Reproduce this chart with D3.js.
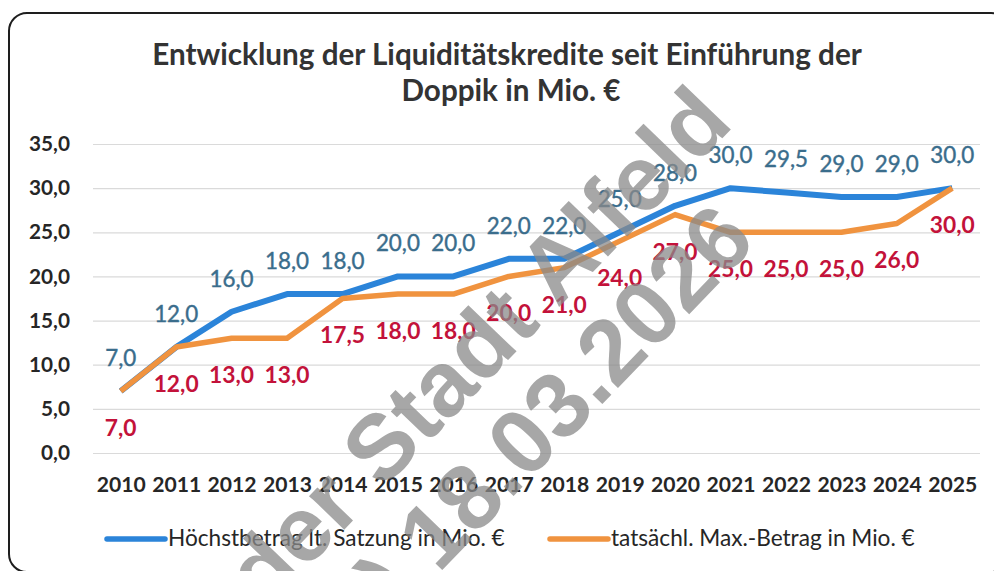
<!DOCTYPE html>
<html>
<head>
<meta charset="utf-8">
<script src="https://cdn.jsdelivr.net/npm/d3@7/dist/d3.min.js"></script>
<style>
  html, body { margin: 0; padding: 0; background: #fff; }
  #chart { width: 994px; height: 571px; }
  text { font-family: Lato, "Open Sans", sans-serif; }
</style>
</head>
<body>
<div id="chart"></div>
<script>
const years = ['2010','2011','2012','2013','2014','2015','2016','2017','2018','2019','2020','2021','2022','2023','2024','2025'];
const limitVals = [7, 12, 16, 18, 18, 20, 20, 22, 22, 25, 28, 30, 29.5, 29, 29, 30];
const actualVals = [7, 12, 13, 13, 17.5, 18, 18, 20, 21, 24, 27, 25, 25, 25, 26, 30];
const yTicks = [0, 5, 10, 15, 20, 25, 30, 35];
const titleLines = ['Entwicklung der Liquiditätskredite seit Einführung der', 'Doppik in Mio. €'];
const seriesNames = ['Höchstbetrag lt. Satzung in Mio. €', 'tatsächl. Max.-Betrag in Mio. €'];
const stampLines = ['Eigentum der Stadt Alfeld', '(Leine) 18.03.2026'];

const C = {
  blue: '#2b84d9',
  orange: '#f0933f',
  blueLbl: '#3a6d8c',
  redLbl: '#c3123a',
  text: '#262626',
  grid: '#dadada'
};

// scale font-size so that the text gets the wanted width
function fitWidth(sel, target) {
  const w = sel.node().getComputedTextLength();
  const fs = parseFloat(sel.style('font-size'));
  const nfs = fs * target / w;
  sel.style('font-size', nfs + 'px');
  return nfs;
}
function sizeFor(str, weight, target) {
  const t = svg.append('text').style('font-size', '20px').style('font-weight', weight).text(str);
  const fs = fitWidth(t, target);
  t.remove();
  return fs;
}

const W = 994, H = 571;
const M = { t: 144, r: 14, b: 118, l: 93 };
const svg = d3.select('#chart').append('svg')
  .attr('width', W).attr('height', H)
  .attr('viewBox', `0 0 ${W} ${H}`)
  .style('display', 'block');

// frame
svg.append('rect')
  .attr('x', 9).attr('y', 13)
  .attr('width', 1000).attr('height', 559)
  .attr('rx', 18)
  .attr('fill', '#fff')
  .attr('stroke', '#1e1e1e')
  .attr('stroke-width', 2);

// title
const t1 = svg.append('text')
  .attr('x', 507).attr('y', 65)
  .attr('text-anchor', 'middle')
  .style('font-weight', 700).style('font-size', '28px')
  .style('fill', '#333')
  .text(titleLines[0]);
const titleFs = fitWidth(t1, 710);
svg.append('text')
  .attr('x', 511).attr('y', 101)
  .attr('text-anchor', 'middle')
  .style('font-weight', 700).style('font-size', titleFs + 'px')
  .style('fill', '#333')
  .text(titleLines[1]);

const x = d3.scalePoint()
  .domain(years)
  .range([M.l, W - M.r])
  .padding(0.5);

const y = d3.scaleLinear()
  .domain([0, 35])
  .range([H - M.b, M.t]);

// grid
svg.append('g').attr('class', 'gridline')
  .attr('transform', `translate(${M.l},0)`)
  .call(d3.axisLeft(y).tickValues(yTicks).tickSize(-(W - M.r - M.l)).tickFormat(''))
  .call(g => g.select('.domain').remove())
  .call(g => g.selectAll('line').attr('stroke', C.grid).attr('stroke-width', 1.2));

const fmt = v => d3.format('.1f')(v).replace('.', ',');

// y axis labels
const yFs = sizeFor('35,0', 700, 41);
svg.append('g')
  .attr('transform', `translate(70,0)`)
  .call(d3.axisLeft(y).tickValues(yTicks).tickSize(0).tickPadding(0).tickFormat(fmt))
  .call(g => g.select('.domain').remove())
  .call(g => g.selectAll('text')
    .style('font-family', 'Lato, sans-serif')
    .style('font-size', yFs + 'px').style('font-weight', 700)
    .attr('fill', C.text));

// x axis labels
const xFs = sizeFor('2010', 700, 49);
svg.append('g')
  .attr('transform', `translate(0,${H - M.b})`)
  .call(d3.axisBottom(x).tickSize(0).tickPadding(0))
  .call(g => g.select('.domain').remove())
  .call(g => g.selectAll('text')
    .attr('dy', null).attr('y', 39)
    .style('font-family', 'Lato, sans-serif')
    .style('font-size', xFs + 'px').style('font-weight', 700)
    .attr('fill', C.text));

const line = d3.line()
  .x((d, i) => x(years[i]))
  .y(d => y(d));

svg.append('path')
  .datum(limitVals)
  .attr('fill', 'none')
  .attr('stroke', C.blue)
  .attr('stroke-width', 6)
  .attr('stroke-linejoin', 'round')
  .attr('d', line);

svg.append('path')
  .datum(actualVals)
  .attr('fill', 'none')
  .attr('stroke', C.orange)
  .attr('stroke-width', 5.5)
  .attr('stroke-linejoin', 'round')
  .attr('d', line);

// data labels
const blueFs = sizeFor('12,0', 400, 44);
const redFs = sizeFor('12,0', 700, 45);

svg.selectAll('text.lblLimit')
  .data(limitVals)
  .enter().append('text')
  .attr('class', 'lblLimit')
  .attr('x', (d, i) => x(years[i]))
  .attr('y', d => y(d) - 33)
  .attr('dy', '0.35em')
  .attr('text-anchor', 'middle')
  .style('font-size', blueFs + 'px')
  .style('font-weight', 400)
  .style('fill', C.blueLbl)
  .style('stroke', C.blueLbl)
  .style('stroke-width', 0.4)
  .text(fmt);

svg.selectAll('text.lblActual')
  .data(actualVals)
  .enter().append('text')
  .attr('class', 'lblActual')
  .attr('x', (d, i) => x(years[i]))
  .attr('y', d => y(d) + 37)
  .attr('dy', '0.35em')
  .attr('text-anchor', 'middle')
  .style('font-size', redFs + 'px')
  .style('font-weight', 700)
  .style('fill', C.redLbl)
  .text(fmt);

// legend
const legend = svg.append('g');
const legFs = sizeFor(seriesNames[0], 400, 337);
[[C.blue, 107, seriesNames[0]], [C.orange, 550, seriesNames[1]]].forEach(([col, lx, name]) => {
  legend.append('line')
    .attr('x1', lx).attr('x2', lx + 58)
    .attr('y1', 539).attr('y2', 539)
    .attr('stroke', col).attr('stroke-width', 5.5)
    .attr('stroke-linecap', 'round');
  legend.append('text')
    .attr('x', lx + 61).attr('y', 546)
    .style('font-size', legFs + 'px')
    .style('fill', C.text)
    .text(name);
});

// stamp across the picture (cut by the picture edge like in the scan)
const stamp = svg.append('g')
  .style('pointer-events', 'none');
[[735, 125, stampLines[0]], [758, 243, stampLines[1]]].forEach(([sx, sy, s]) => {
  stamp.append('text')
    .attr('transform', `translate(${sx},${sy}) rotate(-46)`)
    .attr('text-anchor', 'end')
    .style('font-family', '"Liberation Sans", Arial, sans-serif')
    .style('font-weight', 700)
    .style('font-size', '92px')
    .style('fill', '#8a8a8a')
    .style('opacity', 0.75)
    .text(s);
});
</script>
</body>
</html>
